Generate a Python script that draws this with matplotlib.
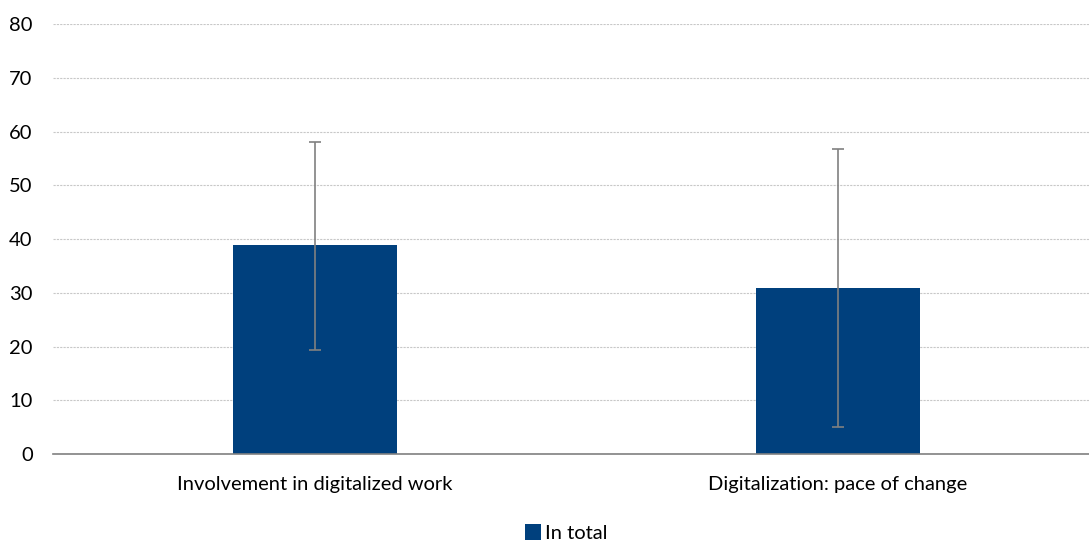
import matplotlib.pyplot as plt
import numpy as np

categories = ["Involvement in digitalized work", "Digitalization: pace of change"]
values = [38.8, 30.9]
err_low = [19.4, 5.0]
err_high = [58.0, 56.7]
series_name = "In total"
yticks = [0, 10, 20, 30, 40, 50, 60, 70, 80]

plt.rcParams['font.family'] = ['Lato', 'DejaVu Sans']

fig = plt.figure(figsize=(10.89, 5.43), dpi=100)
ax = fig.add_axes([0.0491, 0.1639, 0.9605, 0.7919])

x = np.arange(len(categories))
vals = np.array(values)
yerr = [vals - np.array(err_low), np.array(err_high) - vals]

ax.bar(x, vals, width=0.314, color="#00407d", label=series_name, zorder=2)
ax.errorbar(x, vals, yerr=yerr, fmt="none", ecolor="#808080", elinewidth=1.2,
            capsize=4, capthick=1.2, zorder=3)

ax.set_xlim(-0.5, 1.5)
ax.set_ylim(0, 80)
ax.set_yticks(yticks)
ax.set_xticks(x)
ax.set_xticklabels(categories, fontsize=14.5)
ax.tick_params(axis="y", labelsize=14.5, length=0, pad=15)
ax.tick_params(axis="x", length=0, pad=16)

ax.yaxis.grid(True, color="#c8c8c8", linestyle=(0, (2, 1)), linewidth=0.8, zorder=0)
for s in ["top", "right", "left"]:
    ax.spines[s].set_visible(False)
ax.spines["bottom"].set_color("#808080")
ax.spines["bottom"].set_linewidth(1.2)
ax.spines["bottom"].set_zorder(4)

fig.legend(loc="center", bbox_to_anchor=(0.52, 0.018), frameon=False, fontsize=14.5,
           handlelength=0.8, handleheight=0.8, handletextpad=0.2)

fig.savefig("out.png", dpi=100)
